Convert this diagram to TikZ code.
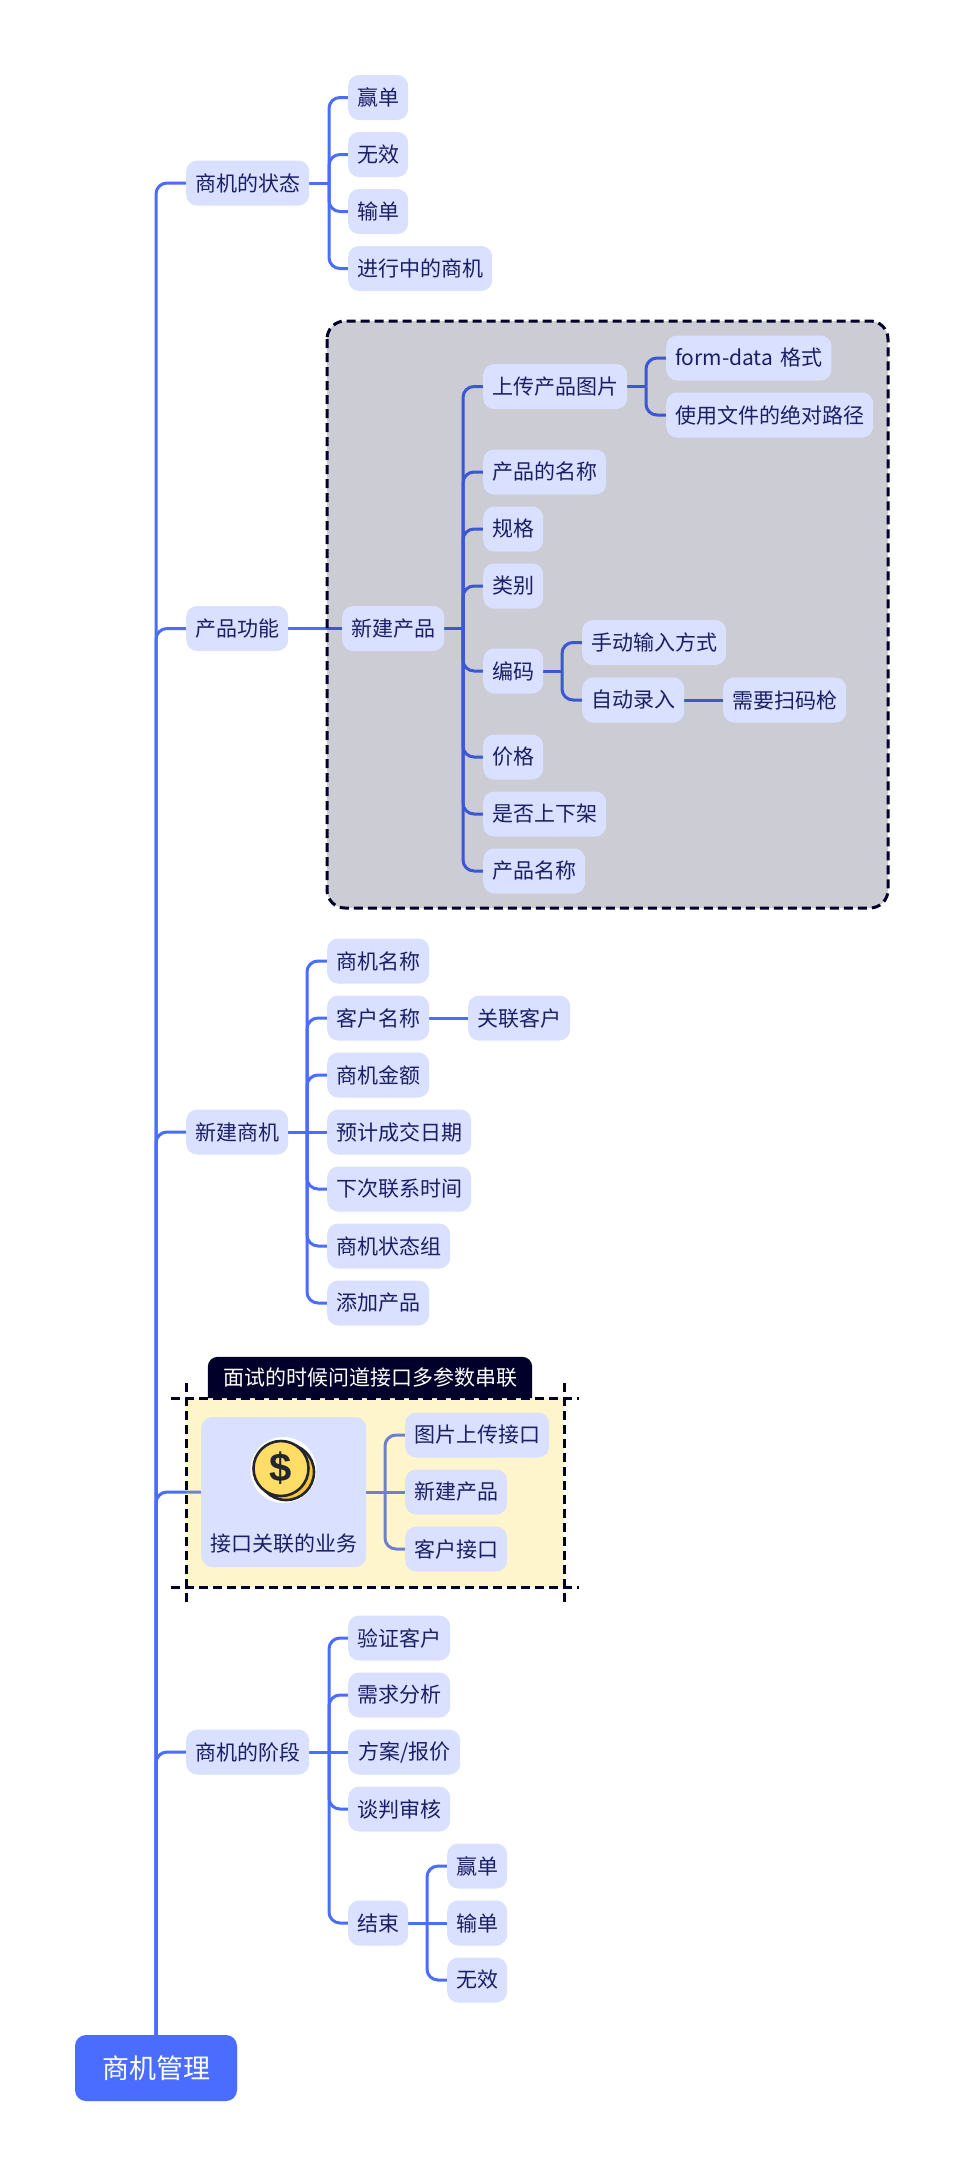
\documentclass[tikz,border=0pt]{standalone}
\usepackage{fontspec}
\setmainfont{Noto Sans CJK SC}
\newfontfamily\coinfont{Liberation Sans}
\usetikzlibrary{calc}
\pgfdeclarelayer{edges}
\pgfdeclarelayer{frames}
\pgfsetlayers{edges,frames,main}
\definecolor{branchblue}{HTML}{4A6DFF}
\definecolor{topicfill}{HTML}{DAE0FF}
\definecolor{topicink}{HTML}{1A1F66}
\definecolor{navy}{HTML}{00002B}
\definecolor{boundyellow}{HTML}{FFD000}
\definecolor{coinfront}{HTML}{FFDD66}
\definecolor{coinback}{HTML}{F8C43A}
\definecolor{coinink}{HTML}{23262E}
\tikzset{
  x=1pt,y=-1pt,
  topic/.style={draw=none,fill=topicfill,rounded corners=11pt,inner xsep=9pt,inner ysep=0pt,minimum height=45pt,anchor=west,text=topicink,font=\fontsize{21}{25}\selectfont},
  rootnode/.style={fill=branchblue,rounded corners=11pt,minimum width=162pt,minimum height=66pt,inner sep=0pt,text=white,font=\fontsize{27}{32}\selectfont},
  link/.style={draw=branchblue,line width=3pt,rounded corners=11pt},
  stub/.style={draw=branchblue,line width=3pt},
  dashline/.style={draw=navy,line width=3pt,dash pattern=on 9pt off 5pt},
}
\newcommand{\brch}[3]{\draw[stub] (#1.east) -- (#2|-#1.east);\draw[link] (#2|-#1.east) -- (#2|-#3.west) -- (#3.west);}
\newcommand{\strt}[2]{\draw[stub] (#1.east) -- (#2.west);}
\newcommand{\trunk}[1]{\draw[link] (root.north) -- (root.north|-#1.west) -- (#1.west);}
\begin{document}
\begin{tikzpicture}
\useasboundingbox (0,0) rectangle (978,2176);
\begin{pgfonlayer}{edges}
\fill[white] (0,0) rectangle (978,2176);
\end{pgfonlayer}

\node[rootnode] (root) at (156,2068) {商机管理};

% spines
\coordinate (sa) at (329,0);
\coordinate (sb) at (463,0);
\coordinate (sc) at (646,0);
\coordinate (sd) at (562,0);
\coordinate (se) at (307,0);
\coordinate (sf) at (385,0);
\coordinate (sg) at (329,0);
\coordinate (sh) at (427,0);

% status
\node[topic] (st) at (186,183) {商机的状态};
\node[topic] (st1) at (348,97.5) {赢单};
\node[topic] (st2) at (348,154.5) {无效};
\node[topic] (st3) at (348,211.5) {输单};
\node[topic] (st4) at (348,268.5) {进行中的商机};

% product
\node[topic] (pf) at (186,628.5) {产品功能};
\node[topic] (np) at (342,628.5) {新建产品};
\node[topic] (up) at (483,386.5) {上传产品图片};
\node[topic] (fd) at (666,358) {form-data\hspace{2.5pt} 格式};
\node[topic] (ab) at (666,415) {使用文件的绝对路径};
\node[topic] (pn) at (483,472) {产品的名称};
\node[topic] (sp) at (483,529) {规格};
\node[topic] (ca) at (483,586) {类别};
\node[topic] (co) at (483,671) {编码};
\node[topic] (ma) at (582,642.5) {手动输入方式};
\node[topic] (au) at (582,700) {自动录入};
\node[topic] (sc1) at (723,700) {需要扫码枪};
\node[topic] (pr) at (483,757) {价格};
\node[topic] (sh1) at (483,814) {是否上下架};
\node[topic] (nm) at (483,871) {产品名称};

% new opportunity
\node[topic] (no) at (186,1132) {新建商机};
\node[topic] (no1) at (327,961) {商机名称};
\node[topic] (no2) at (327,1018) {客户名称};
\node[topic] (no2a) at (468,1018) {关联客户};
\node[topic] (no3) at (327,1075) {商机金额};
\node[topic] (no4) at (327,1132) {预计成交日期};
\node[topic] (no5) at (327,1189) {下次联系时间};
\node[topic] (no6) at (327,1246) {商机状态组};
\node[topic] (no7) at (327,1303) {添加产品};

% interface
\node[topic,minimum width=165pt,minimum height=150pt,inner sep=0pt] (api) at (201,1492) {};
\node[text=topicink,font=\fontsize{21}{25}\selectfont,inner sep=0pt] (apit) at (283.5,1544) {接口关联的业务};
\node[topic] (ap1) at (405,1435) {图片上传接口};
\node[topic] (ap2) at (405,1492) {新建产品};
\node[topic] (ap3) at (405,1549) {客户接口};

% stages
\node[topic] (sa0) at (186,1752) {商机的阶段};
\node[topic] (sa1) at (348,1638) {验证客户};
\node[topic] (sa2) at (348,1695) {需求分析};
\node[topic,minimum width=112pt] (sa3) at (348,1752) {方案/报价};
\node[topic] (sa4) at (348,1809) {谈判审核};
\node[topic] (sa5) at (348,1923) {结束};
\node[topic] (e1) at (447,1866) {赢单};
\node[topic] (e2) at (447,1923) {输单};
\node[topic] (e3) at (447,1980) {无效};

% coin icon
\fill[white] (283.5,1470) circle (33);
\draw[draw=coinink,line width=2.6pt,fill=coinback] (286,1472) circle (28);
\draw[draw=coinink,line width=2.6pt,fill=coinfront] (281,1468.5) circle (27.5);
\node[inner sep=0pt,text=coinink,font=\coinfont\fontsize{40}{44}\bfseries\selectfont] (dollar) at (281,1468) {\$};

\begin{pgfonlayer}{edges}
\trunk{st}\trunk{pf}\trunk{no}\trunk{api}\trunk{sa0}
\brch{st}{sa}{st1}\brch{st}{sa}{st2}\brch{st}{sa}{st3}\brch{st}{sa}{st4}
\strt{pf}{np}
\brch{np}{sb}{up}\brch{np}{sb}{pn}\brch{np}{sb}{sp}\brch{np}{sb}{ca}\brch{np}{sb}{co}\brch{np}{sb}{pr}\brch{np}{sb}{sh1}\brch{np}{sb}{nm}
\brch{up}{sc}{fd}\brch{up}{sc}{ab}
\brch{co}{sd}{ma}\brch{co}{sd}{au}
\strt{au}{sc1}
\brch{no}{se}{no1}\brch{no}{se}{no2}\brch{no}{se}{no3}\strt{no}{no4}\brch{no}{se}{no5}\brch{no}{se}{no6}\brch{no}{se}{no7}
\strt{no2}{no2a}
\brch{api}{sf}{ap1}\strt{api}{ap2}\brch{api}{sf}{ap3}
\brch{sa0}{sg}{sa1}\brch{sa0}{sg}{sa2}\strt{sa0}{sa3}\brch{sa0}{sg}{sa4}\brch{sa0}{sg}{sa5}
\brch{sa5}{sh}{e1}\strt{sa5}{e2}\brch{sa5}{sh}{e3}
\end{pgfonlayer}

\begin{pgfonlayer}{frames}
% product summary frame
\fill[navy,opacity=.2,rounded corners=18pt] (327,321) rectangle (888,908);
\draw[dashline,rounded corners=18pt] (327,321) rectangle (888,908);
% interface boundary
\fill[boundyellow,opacity=.2] (186,1398) rectangle (564,1587);
\draw[dashline] (171,1398) -- (579,1398);
\draw[dashline] (171,1587) -- (579,1587);
\draw[dashline] (186,1383) -- (186,1602);
\draw[dashline] (564,1383) -- (564,1602);
\end{pgfonlayer}

% boundary title
\node[text=white,font=\fontsize{21}{25}\selectfont,minimum width=324pt,minimum height=41pt,inner sep=0pt] (tab) at (370,1377.5) {面试的时候问道接口多参数串联};
\begin{pgfonlayer}{frames}
\fill[navy,rounded corners=10pt] (tab.south west) -- (tab.north west) -- (tab.north east) -- (tab.south east);
\end{pgfonlayer}
\end{tikzpicture}
\end{document}
